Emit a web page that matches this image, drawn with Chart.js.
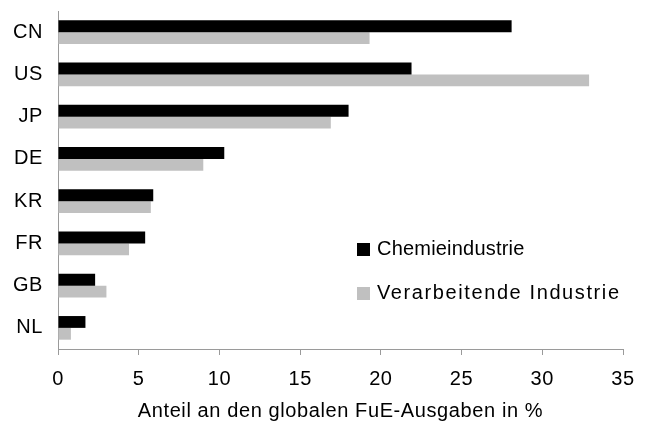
<!DOCTYPE html>
<html>
<head>
<meta charset="utf-8">
<script src="https://cdn.jsdelivr.net/npm/chart.js@4/dist/chart.umd.min.js"></script>
<style>
  html, body { margin: 0; padding: 0; background: #fff; }
  #wrap { width: 653px; height: 423px; position: relative; }
</style>
</head>
<body>
<div id="wrap"><canvas id="c" width="653" height="423"></canvas></div>
<script>
const categories = ['CN', 'US', 'JP', 'DE', 'KR', 'FR', 'GB', 'NL'];
const chemie = [28.1, 21.9, 18.0, 10.3, 5.9, 5.4, 2.3, 1.7];
const verarbeitend = [19.3, 32.9, 16.9, 9.0, 5.75, 4.4, 3.0, 0.8];
const seriesNames = ['Chemieindustrie', 'Verarbeitende Industrie'];
const xTicks = [0, 5, 10, 15, 20, 25, 30, 35];
const xTitle = 'Anteil an den globalen FuE-Ausgaben in %';

const FONT = "'Liberation Sans', Arial, sans-serif";
const AXIS_COLOR = '#9a9a9a';

const spacing = {
  id: 'spacing',
  beforeDraw(chart) { chart.ctx.letterSpacing = '0.6px'; },
  afterDraw(chart) { chart.ctx.letterSpacing = '0px'; }
};

const insideLegend = {
  id: 'insideLegend',
  afterDatasetsDraw(chart) {
    const ctx = chart.ctx;
    const area = chart.chartArea;
    const x0 = area.left + 299;
    const rows = [249, 293];
    ctx.save();
    ctx.font = '20px ' + FONT;
    ctx.textBaseline = 'middle';
    ctx.textAlign = 'left';
    chart.data.datasets.forEach((ds, i) => {
      const cy = rows[i];
      ctx.fillStyle = ds.backgroundColor;
      ctx.fillRect(x0, cy - 6, 13, 13);
      ctx.fillStyle = '#000';
      ctx.letterSpacing = i === 1 ? '1.6px' : '0.2px';
      ctx.fillText(ds.label, x0 + 20, cy);
    });
    ctx.restore();
  }
};

new Chart(document.getElementById('c'), {
  type: 'bar',
  data: {
    labels: categories,
    datasets: [
      { label: seriesNames[0], data: chemie, backgroundColor: '#000000', barPercentage: 1, categoryPercentage: 0.56 },
      { label: seriesNames[1], data: verarbeitend, backgroundColor: '#c0c0c0', barPercentage: 1, categoryPercentage: 0.56 }
    ]
  },
  options: {
    indexAxis: 'y',
    responsive: false,
    animation: false,
    layout: { padding: { top: 11, right: 30, left: 0, bottom: 0 } },
    plugins: {
      legend: { display: false },
      tooltip: { enabled: false },
      title: { display: false }
    },
    scales: {
      x: {
        min: xTicks[0],
        max: xTicks[xTicks.length - 1],
        afterBuildTicks(scale) { scale.ticks = xTicks.map(v => ({ value: v })); },
        afterFit(scale) { scale.height = 74; scale.paddingLeft = 0; scale.paddingRight = 0; },
        ticks: { font: { family: FONT, size: 20 }, color: '#000', padding: 12, maxRotation: 0 },
        grid: { drawOnChartArea: false, drawTicks: true, tickLength: 6, color: AXIS_COLOR },
        border: { color: AXIS_COLOR, width: 1 },
        title: { display: true, text: xTitle, font: { family: FONT, size: 20 }, color: '#000', padding: { top: 0, bottom: 0 } }
      },
      y: {
        afterFit(scale) { scale.width = 58; scale.paddingTop = 0; scale.paddingBottom = 0; },
        ticks: { font: { family: FONT, size: 20 }, color: '#000', padding: 15 },
        grid: { drawOnChartArea: false, drawTicks: false },
        border: { color: AXIS_COLOR, width: 1 }
      }
    }
  },
  plugins: [spacing, insideLegend]
});
</script>
</body>
</html>
